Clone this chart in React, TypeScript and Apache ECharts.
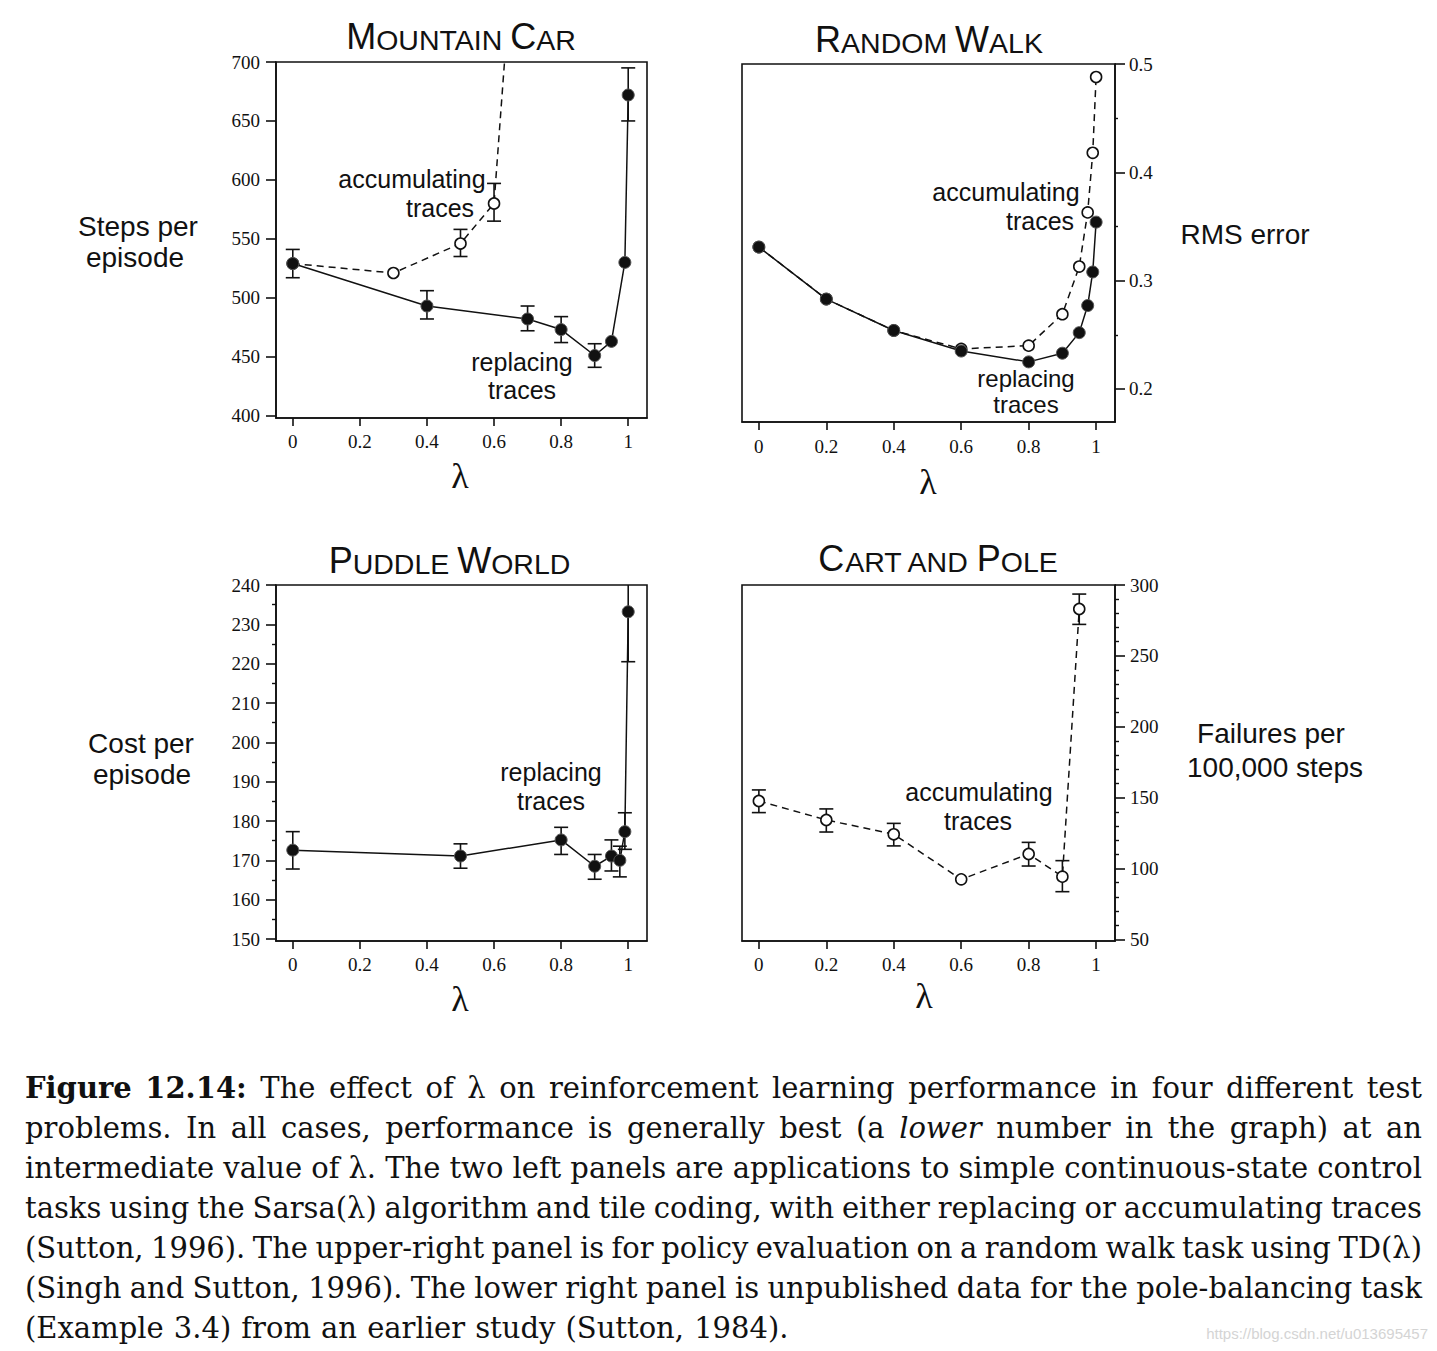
import React, { useEffect, useRef } from "react";
import * as echarts from "echarts";

// ---------- shared axis data ----------
const lambdaTicks = [0, 0.2, 0.4, 0.6, 0.8, 1];
const lambdaTickLabels = ["0", "0.2", "0.4", "0.6", "0.8", "1"];

// ---------- Mountain Car ----------
const mcTicks = [400, 450, 500, 550, 600, 650, 700];
const mcReplLambda = [0, 0.4, 0.7, 0.8, 0.9, 0.95, 0.99, 1];
const mcReplSteps = [529, 493, 482, 473, 451, 463, 530, 672];
const mcReplLow = [517, 482, 472, 462, 441, null, null, 650];
const mcReplHigh = [541, 506, 493, 484, 461, null, null, 695];
const mcAccLambda = [0, 0.3, 0.5, 0.6, 0.7];
const mcAccSteps = [529, 521, 546, 580, 965];
const mcAccLow = [null, null, 535, 565, null];
const mcAccHigh = [null, null, 558, 597, null];

// ---------- Random Walk ----------
const rwTicks = [0.2, 0.3, 0.4, 0.5];
const rwTickLabels = ["0.2", "0.3", "0.4", "0.5"];
const rwMinorTicks = [0.25, 0.35, 0.45];
const rwLambda = [0, 0.2, 0.4, 0.6, 0.8, 0.9, 0.95, 0.975, 0.99, 1];
const rwRepl = [0.331, 0.283, 0.254, 0.235, 0.225, 0.233, 0.252, 0.277, 0.308, 0.354];
const rwAcc = [0.331, 0.283, 0.254, 0.237, 0.24, 0.269, 0.313, 0.363, 0.418, 0.488];

// ---------- Puddle World ----------
const pwTicks = [150, 160, 170, 180, 190, 200, 210, 220, 230, 240];
const pwMinorTicks = [155, 165, 175, 185, 195, 205, 215, 225, 235];
const pwLambda = [0, 0.5, 0.8, 0.9, 0.95, 0.975, 0.99, 1];
const pwCost = [172.6, 171.1, 175.2, 168.5, 171.1, 170.0, 177.3, 233.2];
const pwLow = [167.8, 168.0, 171.5, 165.2, 167.3, 165.8, 172.8, 220.5];
const pwHigh = [177.3, 174.2, 178.4, 171.5, 175.2, 173.6, 182.1, 246];

// ---------- Cart and Pole ----------
const cpTicks = [50, 100, 150, 200, 250, 300];
const cpMinorTicks = [60, 70, 80, 90, 110, 120, 130, 140, 160, 170, 180, 190, 210, 220, 230, 240, 260, 270, 280, 290];
const cpLambda = [0, 0.2, 0.4, 0.6, 0.8, 0.9, 0.95];
const cpFailures = [147.6, 134.2, 124.1, 92.3, 110.2, 94.2, 283.1];
const cpLow = [139.4, 125.7, 115.9, null, 101.7, 83.6, 272.2];
const cpHigh = [155.4, 142.0, 131.8, null, 118.4, 105.5, 293.6];

// ---------- caption ----------
const captionLines = [
  "*Figure *12.14: The effect of λ on reinforcement learning performance in four different test",
  "problems. In all cases, performance is generally best (a _lower number in the graph) at an",
  "intermediate value of λ. The two left panels are applications to simple continuous-state control",
  "tasks using the Sarsa(λ) algorithm and tile coding, with either replacing or accumulating traces",
  "(Sutton, 1996). The upper-right panel is for policy evaluation on a random walk task using TD(λ)",
  "(Singh and Sutton, 1996). The lower right panel is unpublished data for the pole-balancing task",
  "(Example 3.4) from an earlier study (Sutton, 1984).",
];
const watermark = "https://blog.csdn.net/u013695457";

const FG = "#111";
const SERIF = '"Liberation Serif", "Times New Roman", serif';
const CAP_FONT = "DejaVu Serif";
const SANS = '"Liberation Sans", Arial, sans-serif';
const X_MIN = -0.05;
const X_MAX = 1.056;

function labelFor(ticks: number[], labels: string[] | null, v: number) {
  for (let i = 0; i < ticks.length; i++) {
    if (Math.abs(ticks[i] - v) < 1e-6) return labels ? labels[i] : String(ticks[i]);
  }
  return "";
}

function pairs(xs: number[], ys: number[]) {
  return xs.map((x, i) => [x, ys[i]]);
}

function errData(xs: number[], lo: (number | null)[], hi: (number | null)[]) {
  const out: number[][] = [];
  xs.forEach((x, i) => {
    if (lo[i] != null && hi[i] != null) out.push([x, lo[i] as number, hi[i] as number]);
  });
  return out;
}

function xAx(gi: number, margin: number) {
  return {
    type: "value",
    gridIndex: gi,
    min: X_MIN,
    max: X_MAX,
    position: "bottom",
    axisLine: { show: true, onZero: false, lineStyle: { color: FG, width: 1.6 } },
    axisTick: { show: true, customValues: lambdaTicks, length: 8, lineStyle: { color: FG, width: 1.6 } },
    axisLabel: {
      show: true,
      customValues: lambdaTicks,
      margin,
      formatter: (v: number) => labelFor(lambdaTicks, lambdaTickLabels, v),
      fontFamily: SERIF,
      fontSize: 19,
      color: FG,
    },
    splitLine: { show: false },
  };
}

function yAx(gi: number, pos: string, min: number, max: number, ticks: number[], labels: string[] | null, margin: number) {
  return {
    type: "value",
    gridIndex: gi,
    position: pos,
    min,
    max,
    axisLine: { show: true, onZero: false, lineStyle: { color: FG, width: 1.6 } },
    axisTick: { show: true, customValues: ticks, length: 10, lineStyle: { color: FG, width: 1.6 } },
    axisLabel: {
      show: true,
      customValues: ticks,
      margin,
      formatter: (v: number) => labelFor(ticks, labels, v),
      fontFamily: SERIF,
      fontSize: 19,
      color: FG,
    },
    splitLine: { show: false },
  };
}

function yMinor(gi: number, pos: string, min: number, max: number, ticks: number[], len: number) {
  return {
    type: "value",
    gridIndex: gi,
    position: pos,
    offset: 0,
    min,
    max,
    axisLine: { show: false, onZero: false },
    axisTick: { show: true, customValues: ticks, length: len, lineStyle: { color: FG, width: 1.4 } },
    axisLabel: { show: false },
    splitLine: { show: false },
  };
}

function lineSeries(xi: number, yi: number, data: number[][], filled: boolean) {
  return {
    type: "line",
    xAxisIndex: xi,
    yAxisIndex: yi,
    data,
    z: filled ? 4 : 3,
    symbol: "circle",
    symbolSize: filled ? 12 : 11,
    showSymbol: true,
    clip: true,
    silent: true,
    lineStyle: { color: FG, width: 1.5, type: filled ? "solid" : [7, 5] },
    itemStyle: filled
      ? { color: FG, borderColor: "#555", borderWidth: 1 }
      : { color: "#fff", borderColor: FG, borderWidth: 1.6 },
    emphasis: { disabled: true },
  };
}

function errorSeries(xi: number, yi: number, data: number[][]) {
  return {
    type: "custom",
    xAxisIndex: xi,
    yAxisIndex: yi,
    z: 1,
    clip: true,
    silent: true,
    data,
    encode: { x: 0, y: [1, 2] },
    renderItem: (params: any, api: any) => {
      const x = api.value(0);
      const a = api.coord([x, api.value(1)]);
      const b = api.coord([x, api.value(2)]);
      const hw = 7;
      const style = { stroke: FG, lineWidth: 1.6, fill: null };
      return {
        type: "group",
        children: [
          { type: "line", shape: { x1: a[0], y1: a[1], x2: b[0], y2: b[1] }, style },
          { type: "line", shape: { x1: a[0] - hw, y1: a[1], x2: a[0] + hw, y2: a[1] }, style },
          { type: "line", shape: { x1: b[0] - hw, y1: b[1], x2: b[0] + hw, y2: b[1] }, style },
        ],
      };
    },
  };
}

function txt(x: number, y: number, text: string, size: number, family: string, align = "center", extra: any = {}) {
  return {
    type: "text",
    x,
    y,
    silent: true,
    style: { text, fontSize: size, fontFamily: family, fill: FG, align, verticalAlign: "middle", ...extra },
  };
}

function smallCapsTitle(x: number, y: number, text: string) {
  return {
    type: "text",
    x,
    y,
    silent: true,
    style: {
      text,
      align: "center",
      verticalAlign: "middle",
      fill: FG,
      fontFamily: SANS,
      rich: {
        b: { fontSize: 36, fontFamily: SANS, fill: FG, color: FG, lineHeight: 36, verticalAlign: "bottom" },
        s: { fontSize: 28.5, fontFamily: SANS, fill: FG, color: FG, lineHeight: 28.5, verticalAlign: "bottom" },
      },
    },
  };
}

function captionGraphics() {
  const out: any[] = [];
  const size = 29;
  const canvas = document.createElement("canvas");
  const ctx = canvas.getContext("2d")!;
  const x0 = 25;
  const x1 = 1422;
  const y0 = 1088;
  const lh = 40;
  captionLines.forEach((line, li) => {
    const toks = line.split(" ").map((raw) => {
      let weight = "normal";
      let style = "normal";
      let t = raw;
      if (t.startsWith("*")) {
        weight = "bold";
        t = t.slice(1);
      } else if (t.startsWith("_")) {
        style = "italic";
        t = t.slice(1);
      }
      ctx.font = `${style} ${weight} ${size}px "${CAP_FONT}"`;
      const w = ctx.measureText(t).width;
      return { t, weight, style, w };
    });
    ctx.font = `${size}px "${CAP_FONT}"`;
    const spaceW = ctx.measureText(" ").width;
    const total = toks.reduce((s, k) => s + k.w, 0);
    const last = li === captionLines.length - 1;
    let gap = last ? spaceW * 1.1 : (x1 - x0 - total) / (toks.length - 1);
    if (gap < 3) gap = 3;
    let x = x0;
    toks.forEach((k) => {
      out.push({
        type: "text",
        x,
        y: y0 + li * lh,
        silent: true,
        style: {
          text: k.t,
          fontSize: size,
          fontFamily: `"${CAP_FONT}", serif`,
          fontWeight: k.weight,
          fontStyle: k.style,
          fill: FG,
          align: "left",
          verticalAlign: "middle",
        },
      });
      x += k.w + gap;
    });
  });
  return out;
}

function buildOption() {
  const grids = [
    { left: 276, top: 62, width: 371, height: 356 },
    { left: 742, top: 64, width: 373, height: 358 },
    { left: 276, top: 585, width: 371, height: 356 },
    { left: 742, top: 585, width: 373, height: 356 },
  ].map((g) => ({ ...g, show: true, borderColor: FG, borderWidth: 1.6, backgroundColor: "transparent", containLabel: false }));

  const xAxis = [xAx(0, 14), xAx(1, 15), xAx(2, 14), xAx(3, 14)];
  const yAxis = [
    yAx(0, "left", 398, 700, mcTicks, null, 16), // 0
    yAx(1, "right", 0.1695, 0.5, rwTicks, rwTickLabels, 14), // 1
    yMinor(1, "right", 0.1695, 0.5, rwMinorTicks, 3), // 2
    yAx(2, "left", 149.5, 240, pwTicks, null, 16), // 3
    yMinor(2, "left", 149.5, 240, pwMinorTicks, 4), // 4
    yAx(3, "right", 48.8, 300, cpTicks, null, 15), // 5
    yMinor(3, "right", 48.8, 300, cpMinorTicks, 4), // 6
  ];

  const series = [
    // Mountain Car
    errorSeries(0, 0, errData(mcAccLambda, mcAccLow, mcAccHigh)),
    errorSeries(0, 0, errData(mcReplLambda, mcReplLow, mcReplHigh)),
    lineSeries(0, 0, pairs(mcAccLambda, mcAccSteps), false),
    lineSeries(0, 0, pairs(mcReplLambda, mcReplSteps), true),
    // Random Walk
    lineSeries(1, 1, pairs(rwLambda, rwAcc), false),
    lineSeries(1, 1, pairs(rwLambda, rwRepl), true),
    // Puddle World
    errorSeries(2, 3, errData(pwLambda, pwLow, pwHigh)),
    lineSeries(2, 3, pairs(pwLambda, pwCost), true),
    // Cart and Pole
    errorSeries(3, 5, errData(cpLambda, cpLow, cpHigh)),
    lineSeries(3, 5, pairs(cpLambda, cpFailures), false),
  ];

  const graphic: any[] = [
    smallCapsTitle(461, 36, "{b|M}{s|OUNTAIN }{b|C}{s|AR}"),
    smallCapsTitle(929, 39, "{b|R}{s|ANDOM }{b|W}{s|ALK}"),
    smallCapsTitle(449.5, 560, "{b|P}{s|UDDLE }{b|W}{s|ORLD}"),
    smallCapsTitle(938, 558, "{b|C}{s|ART AND }{b|P}{s|OLE}"),
    // lambda axis names
    txt(460, 476, "λ", 36, SERIF),
    txt(928, 482, "λ", 36, SERIF),
    txt(460, 999, "λ", 36, SERIF),
    txt(924, 996, "λ", 36, SERIF),
    // y axis names
    txt(138, 226, "Steps per", 28, SANS),
    txt(135, 257, "episode", 28, SANS),
    txt(1245, 234, "RMS error", 28, SANS),
    txt(141, 743, "Cost per", 28, SANS),
    txt(142, 774, "episode", 28, SANS),
    txt(1271, 733, "Failures per", 28, SANS),
    txt(1275, 767, "100,000 steps", 28, SANS),
    // annotations
    txt(412, 179, "accumulating", 25, SANS),
    txt(440, 208, "traces", 25, SANS),
    txt(522, 362, "replacing", 25, SANS),
    txt(522, 390, "traces", 25, SANS),
    txt(1006, 192, "accumulating", 25, SANS),
    txt(1040, 221, "traces", 25, SANS),
    txt(1026, 378, "replacing", 24, SANS),
    txt(1026, 404, "traces", 24, SANS),
    txt(551, 772, "replacing", 25, SANS),
    txt(551, 801, "traces", 25, SANS),
    txt(979, 792, "accumulating", 25, SANS),
    txt(978, 821, "traces", 25, SANS),
    ...captionGraphics(),
    txt(1428, 1333, watermark, 15, SANS, "right", { fill: "#d4d4d4" }),
  ];

  return {
    animation: false,
    backgroundColor: "#fff",
    grid: grids,
    xAxis,
    yAxis,
    series,
    graphic,
  };
}

export default function App() {
  const ref = useRef<HTMLDivElement>(null);
  useEffect(() => {
    document.body.style.margin = "0";
    const chart = echarts.init(ref.current!, null, { renderer: "svg" });
    chart.setOption(buildOption() as any);
    return () => chart.dispose();
  }, []);
  return <div ref={ref} style={{ width: 1437, height: 1351 }} />;
}
